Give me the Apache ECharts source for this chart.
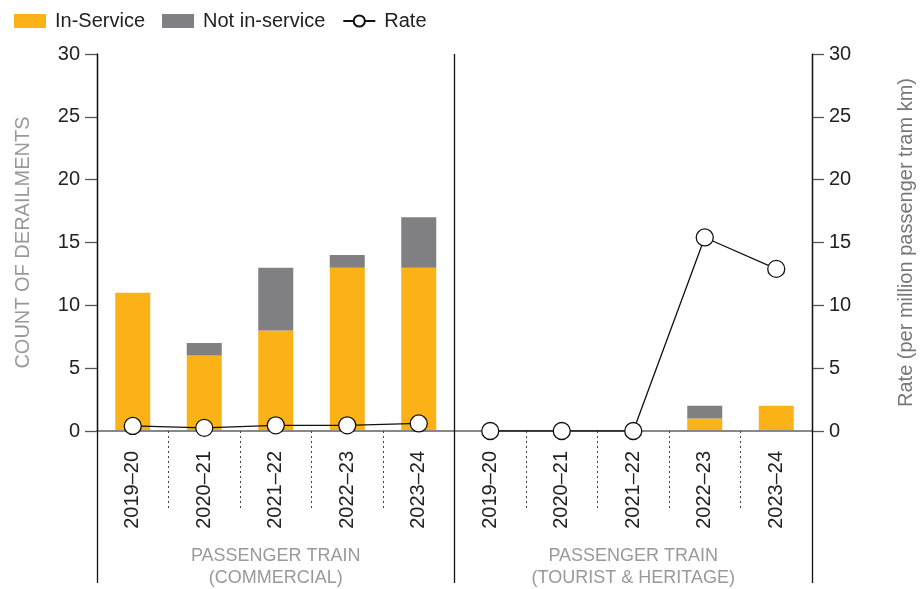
<!DOCTYPE html>
<html>
<head>
<meta charset="utf-8">
<script src="https://cdn.jsdelivr.net/npm/echarts@6/dist/echarts.min.js"></script>
<style>
html,body{margin:0;padding:0;background:#fff;}
#chart{width:924px;height:589px;}
</style>
</head>
<body>
<div id="chart"></div>
<script>
const years = ['2019–20', '2020–21', '2021–22', '2022–23', '2023–24'];
const groups = ['PASSENGER TRAIN\n(COMMERCIAL)', 'PASSENGER TRAIN\n(TOURIST & HERITAGE)'];
const inServiceCommercial = [11, 6, 8, 13, 13];
const notInServiceCommercial = [0, 1, 5, 1, 4];
const inServiceTourist = [0, 0, 0, 1, 2];
const notInServiceTourist = [0, 0, 0, 1, 0];
const rateCommercial = [0.4, 0.25, 0.45, 0.45, 0.6];
const rateTourist = [0, 0, 0, 15.4, 12.9];
const yTicks = [0, 5, 10, 15, 20, 25, 30];

const categories = [];
groups.forEach((g, gi) => years.forEach(y => categories.push(gi + '|' + y)));
const blank = years.map(() => '-');
const inService = inServiceCommercial.concat(inServiceTourist);
const notInService = notInServiceCommercial.concat(notInServiceTourist);
const rate1 = rateCommercial.concat(blank);
const rate2 = blank.concat(rateTourist);

const FONT = 'Liberation Sans';
const chart = echarts.init(document.getElementById('chart'));
const lineStyle = {color: '#111', width: 1.3};
const symbolStyle = {color: '#fff', borderColor: '#111', borderWidth: 1.3};

chart.setOption({
  animation: false,
  textStyle: {fontFamily: FONT},
  legend: {
    left: 14, top: 11, padding: 0, itemWidth: 32, itemHeight: 14, itemGap: 17,
    textStyle: {fontSize: 20, color: '#222', fontFamily: FONT, padding: [0, 0, 0, 4]},
    data: [
      {name: 'In-Service', icon: 'rect'},
      {name: 'Not in-service', icon: 'rect'},
      {name: 'Rate'}
    ]
  },
  grid: {left: 97, right: 112, top: 54, bottom: 156, containLabel: false},
  xAxis: [
    {
      type: 'category', data: categories, position: 'bottom',
      axisLine: {show: true, lineStyle: {color: '#888', width: 2}},
      axisTick: {show: true, inside: false, length: 77, alignWithLabel: false,
        lineStyle: {color: '#444', type: [2, 3], width: 1}},
      axisLabel: {rotate: 90, margin: 20, fontSize: 20, color: '#222', fontFamily: FONT,
        formatter: v => v.split('|')[1]},
      z: 2
    },
    {
      type: 'category', data: groups, position: 'bottom',
      axisLine: {show: false},
      axisTick: {show: true, inside: false, length: 152, lineStyle: {color: '#111', width: 1.3}},
      splitLine: {show: true, lineStyle: {color: '#111', width: 1.3}},
      axisLabel: {margin: 114, fontSize: 18, color: '#999', lineHeight: 22, fontFamily: FONT},
      z: 3
    }
  ],
  yAxis: [
    {
      type: 'value', min: 0, max: 30, interval: 5, position: 'left',
      name: 'COUNT OF DERAILMENTS', nameLocation: 'middle', nameRotate: 90, nameGap: 64,
      nameTextStyle: {fontSize: 20, color: '#999', fontFamily: FONT},
      axisLine: {show: true, lineStyle: {color: '#333', width: 1.3}},
      axisTick: {show: true, length: 12, lineStyle: {color: '#555', width: 1.3}},
      axisLabel: {fontSize: 20, color: '#222', margin: 17, fontFamily: FONT,
        formatter: v => yTicks.includes(v) ? String(v) : ''},
      splitLine: {show: false}
    },
    {
      type: 'value', min: 0, max: 30, interval: 5, position: 'right',
      name: 'Rate (per million passenger tram km)', nameLocation: 'middle', nameRotate: 90, nameGap: 84,
      nameTextStyle: {fontSize: 20, color: '#777', fontFamily: FONT},
      axisLine: {show: true, lineStyle: {color: '#333', width: 1.3}},
      axisTick: {show: true, length: 12, lineStyle: {color: '#555', width: 1.3}},
      axisLabel: {fontSize: 20, color: '#222', margin: 17, fontFamily: FONT},
      splitLine: {show: false}
    }
  ],
  series: [
    {name: 'In-Service', type: 'bar', stack: 'd', data: inService, barWidth: 35,
      itemStyle: {color: '#FBB217'}, z: 1},
    {name: 'Not in-service', type: 'bar', stack: 'd', data: notInService, barWidth: 35,
      itemStyle: {color: '#808083'}, z: 1},
    {name: 'Rate', type: 'line', yAxisIndex: 1, data: rate1, symbol: 'circle', symbolSize: 17,
      lineStyle: lineStyle, itemStyle: symbolStyle, z: 5},
    {name: 'Rate', type: 'line', yAxisIndex: 1, data: rate2, symbol: 'circle', symbolSize: 17,
      lineStyle: lineStyle, itemStyle: symbolStyle, z: 5}
  ]
});
</script>
</body>
</html>
